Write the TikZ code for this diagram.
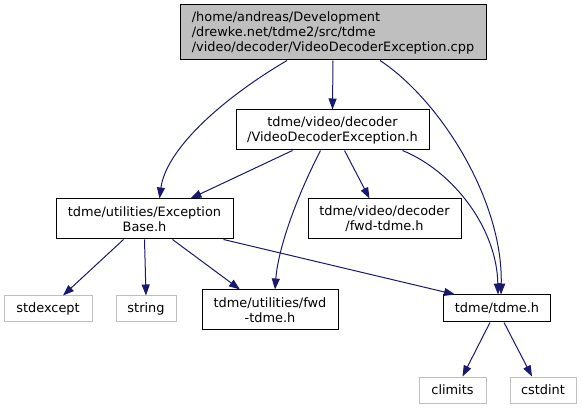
\documentclass[tikz,border=0pt]{standalone}
\usepackage{fontspec}
\setmainfont{DejaVu Sans}
\usetikzlibrary{arrows.meta}
\definecolor{edgecol}{HTML}{191970}
\definecolor{greyline}{HTML}{BFBFBF}
\begin{document}
\begin{tikzpicture}[x=1pt,y=-1pt,
  box/.style={draw=black,line width=1pt,fill=white,inner sep=0pt,align=center,
    font=\fontsize{12.9}{15}\selectfont},
  sysbox/.style={box,draw=greyline},
  rootbox/.style={box,fill=greyline,align=left},
  dep/.style={draw=edgecol,line width=1pt,-{Triangle[length=11pt,width=8pt]}}]
\useasboundingbox (0,0) rectangle (582,409);

\node[rootbox,minimum width=306pt,minimum height=55pt] (top) at (333,32.5)
  {/home/andreas/Development\\/drewke.net/tdme2/src/tdme\\/video/decoder/VideoDecoderException.cpp};
\node[box,minimum width=193pt,minimum height=40pt] (vde) at (332.5,130)
  {tdme/video/decoder\\/VideoDecoderException.h};
\node[box,minimum width=177pt,minimum height=40pt] (eb) at (144.5,219)
  {tdme/utilities/Exception\\Base.h};
\node[box,minimum width=153pt,minimum height=40pt] (fv) at (384.5,219)
  {tdme/video/decoder\\/fwd-tdme.h};
\node[sysbox,minimum width=88pt,minimum height=26pt] (stdexc) at (48,309) {stdexcept};
\node[sysbox,minimum width=60pt,minimum height=26pt] (str) at (146,309) {string};
\node[box,minimum width=136pt,minimum height=40pt] (uf) at (270,310)
  {tdme/utilities/fwd\\-tdme.h};
\node[box,minimum width=107pt,minimum height=27pt] (tdme) at (497,308.5) {tdme/tdme.h};
\node[sysbox,minimum width=67pt,minimum height=26pt] (climits) at (452.5,390) {climits};
\node[sysbox,minimum width=66pt,minimum height=26pt] (cstdint) at (543,390) {cstdint};

\draw[dep] ([xshift=-46pt]top.south) .. controls (220,100) and (166,150) .. ([xshift=15pt]eb.north);
\draw[dep] (top.south) -- (vde.north);
\draw[dep] ([xshift=47pt]top.south) .. controls (440,100) and (503,200) .. ([xshift=4pt]tdme.north);
\draw[dep] ([xshift=-40pt]vde.south) -- ([xshift=46pt]eb.north);
\draw[dep] ([xshift=-12pt]vde.south) .. controls (295,200) and (278,250) .. ([xshift=5pt]uf.north);
\draw[dep] ([xshift=12pt]vde.south) -- ([xshift=-15pt]fv.north);
\draw[dep] ([xshift=70pt]vde.south) .. controls (455,172) and (497,230) .. ([xshift=1pt]tdme.north);
\draw[dep] ([xshift=-21pt]eb.south) -- ([xshift=15pt]stdexc.north);
\draw[dep] (eb.south) -- (str.north);
\draw[dep] ([xshift=28pt]eb.south) -- ([xshift=-30pt]uf.north);
\draw[dep] ([xshift=79pt]eb.south) -- ([xshift=-42pt]tdme.north);
\draw[dep] ([xshift=-7pt]tdme.south) -- ([xshift=10pt]climits.north);
\draw[dep] ([xshift=7pt]tdme.south) -- ([xshift=-11pt]cstdint.north);
\end{tikzpicture}
\end{document}
